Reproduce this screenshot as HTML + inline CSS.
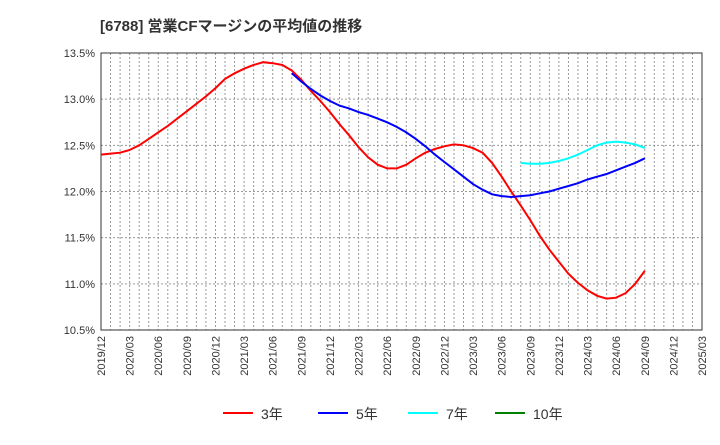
<!DOCTYPE html>
<html><head><meta charset="utf-8"><style>
body{margin:0;background:#fff;}
svg text{font-family:"Liberation Sans","Noto Sans CJK JP",sans-serif;}
</style></head><body>
<svg id="chart" width="720" height="440" xmlns="http://www.w3.org/2000/svg">
<text x="100" y="31" font-size="15" font-weight="bold" fill="#333">[6788]  営業CFマージンの平均値の推移</text>
<g id="grid"></g>
<g id="axes"></g>
<g id="series"></g>
<g id="legend"></g>
</svg>
<script>
const yTicks=[10.5,11.0,11.5,12.0,12.5,13.0,13.5];
const xLabels=["2019/12","2020/03","2020/06","2020/09","2020/12","2021/03","2021/06","2021/09","2021/12","2022/03","2022/06","2022/09","2022/12","2023/03","2023/06","2023/09","2023/12","2024/03","2024/06","2024/09","2024/12","2025/03"];
const s3Start=0;
const s3=[12.40,12.41,12.42,12.45,12.50,12.57,12.64,12.71,12.79,12.87,12.95,13.03,13.12,13.22,13.28,13.33,13.37,13.40,13.39,13.37,13.31,13.21,13.09,12.98,12.86,12.73,12.61,12.48,12.37,12.29,12.25,12.25,12.29,12.36,12.42,12.46,12.49,12.51,12.50,12.47,12.42,12.31,12.16,12.00,11.85,11.69,11.52,11.37,11.24,11.11,11.01,10.93,10.87,10.84,10.85,10.90,11.00,11.14];
const s5Start=20;
const s5=[13.28,13.19,13.11,13.04,12.98,12.93,12.90,12.86,12.83,12.79,12.75,12.70,12.64,12.57,12.49,12.40,12.32,12.24,12.16,12.08,12.02,11.97,11.95,11.94,11.95,11.96,11.98,12.00,12.03,12.06,12.09,12.13,12.16,12.19,12.23,12.27,12.31,12.36];
const s7Start=44;
const s7=[12.31,12.30,12.30,12.31,12.33,12.36,12.40,12.45,12.50,12.53,12.54,12.53,12.51,12.47];
const s10=[];
const legendLabels=["3年","5年","7年","10年"];
const colors=["#ff0000","#0000ff","#00ffff","#008000"];

const NS="http://www.w3.org/2000/svg";
const L=101,R=702,T=53,B=330,months=63;
const xm=i=>L+(R-L)*i/months;
const yv=v=>B-(v-10.5)/3*(B-T);
function mk(tag,attrs,parent){const e=document.createElementNS(NS,tag);for(const k in attrs)e.setAttribute(k,attrs[k]);parent.appendChild(e);return e;}
const grid=document.getElementById('grid'),axes=document.getElementById('axes'),ser=document.getElementById('series'),leg=document.getElementById('legend');
for(let m=1;m<months;m++){const gl=mk('line',{x1:xm(m),x2:xm(m),y1:T,y2:B,stroke:'#999','stroke-dasharray':'2,2','stroke-width':1},grid);

}
yTicks.forEach(v=>{const gl=mk('line',{x1:L,x2:R,y1:yv(v),y2:yv(v),stroke:'#999','stroke-dasharray':'2,2','stroke-width':1},grid);


const t=mk('text',{x:L-6,y:yv(v)+4,'text-anchor':'end','font-size':11,fill:'#333'},axes);t.textContent=v.toFixed(1)+'%';

});
xLabels.forEach((s,i)=>{const x=xm(i*3);const t=mk('text',{x:0,y:0,transform:`translate(${x+4},${B+6}) rotate(-90)`,'text-anchor':'end','font-size':11,fill:'#333'},axes);t.textContent=s;

});
const fr=mk('rect',{x:L,y:T,width:R-L,height:B-T,fill:'none',stroke:'#333','stroke-width':1},axes);


function line(arr,start,color,name){if(!arr.length)return;const d=arr.map((v,i)=>(i?'L':'M')+xm(start+i).toFixed(1)+','+yv(v).toFixed(1)).join('');
const p=mk('path',{d:d,fill:'none',stroke:color,'stroke-width':2},ser);

}
line(s3,s3Start,colors[0],'line-3yr');
line(s5,s5Start,colors[1],'line-5yr');
line(s7,s7Start,colors[2],'line-7yr');
line(s10,0,colors[3],'line-10yr');
const lx=[223,318,408,495];
legendLabels.forEach((s,i)=>{const g=mk('g',{},leg);


mk('line',{x1:lx[i],x2:lx[i]+30,y1:413,y2:413,stroke:colors[i],'stroke-width':2},g);
const t=mk('text',{x:lx[i]+38,y:419,'font-size':14,fill:'#333'},g);t.textContent=s;});
</script>
</body></html>
